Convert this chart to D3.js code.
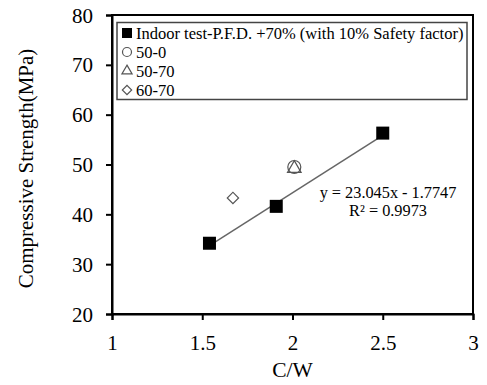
<!DOCTYPE html>
<html>
<head>
<meta charset="utf-8">
<script src="https://cdn.jsdelivr.net/npm/d3@7"></script>
<style>
  body { margin: 0; background: #fff; }
  svg text { font-family: "Liberation Serif", "Times New Roman", serif; fill: #000; }
</style>
</head>
<body>
<div class="wrap"></div>
<script>
// data
const indoorCW = [1.54, 1.91, 2.5];
const indoorFc = [34.2, 41.6, 56.3];
const series50_0 = [[2.01, 49.3]];
const series50_70 = [[2.01, 49.4]];
const series60_70 = [[1.67, 43.3]];
const legendLabels = ["Indoor test-P.F.D. +70% (with 10% Safety factor)", "50-0", "50-70", "60-70"];
const xTicks = [1, 1.5, 2, 2.5, 3];
const yTicks = [20, 30, 40, 50, 60, 70, 80];
const slope = 23.045, intercept = -1.7747;

const W = 487, H = 385;
const m = {left: 112, top: 15, right: 14, bottom: 71};
const serif = '"Liberation Serif", "Times New Roman", serif';

const svg = d3.select(".wrap").append("svg")
  .attr("width", W).attr("height", H);

const x = d3.scaleLinear().domain([1, 3]).range([m.left, W - m.right]);
const y = d3.scaleLinear().domain([20, 80]).range([H - m.bottom, m.top]);

// frame
svg.append("rect")
  .attr("x", x(1)).attr("y", y(80))
  .attr("width", x(3) - x(1)).attr("height", y(20) - y(80))
  .attr("fill", "none").attr("stroke", "#000").attr("stroke-width", 2);

const xAxis = d3.axisBottom(x).tickValues(xTicks).tickSize(6).tickPadding(15)
  .tickFormat(d3.format(""));
const yAxis = d3.axisLeft(y).tickValues(yTicks).tickSize(6).tickPadding(13);

const gx = svg.append("g").attr("transform", `translate(0,${y(20)})`).call(xAxis);
const gy = svg.append("g").attr("transform", `translate(${x(1)},0)`).call(yAxis);
[gx, gy].forEach(g => {
  g.attr("font-family", serif).attr("font-size", 21);
  g.select(".domain").attr("stroke-width", 2);
  g.selectAll(".tick line").attr("stroke-width", 2);
  g.selectAll(".tick text").style("font-family", serif).style("font-size", "21px");
});
gy.selectAll(".tick text").attr("dy", "0.34em");

// axis titles
svg.append("text")
  .attr("x", x(2)).attr("y", 377)
  .attr("text-anchor", "middle").style("font-size", "21.5px")
  .text("C/W");
svg.append("text")
  .attr("transform", "translate(33,168.5) rotate(-90)")
  .attr("text-anchor", "middle").style("font-size", "21px")
  .text("Compressive Strength(MPa)");

// trendline
svg.append("line")
  .attr("x1", x(indoorCW[0])).attr("y1", y(slope * indoorCW[0] + intercept))
  .attr("x2", x(indoorCW[2])).attr("y2", y(slope * indoorCW[2] + intercept))
  .attr("stroke", "#666").attr("stroke-width", 1.5);

// markers
indoorCW.forEach((c, i) => {
  svg.append("rect")
    .attr("x", x(c) - 6.5).attr("y", y(indoorFc[i]) - 6.5)
    .attr("width", 13).attr("height", 13).attr("fill", "#000");
});
series50_0.forEach(d => {
  svg.append("circle").attr("cx", x(d[0])).attr("cy", y(d[1]) - 1).attr("r", 6.5)
    .attr("fill", "none").attr("stroke", "#555").attr("stroke-width", 1.2);
});
const tri = d3.symbol().type(d3.symbolTriangle).size(80);
series50_70.forEach(d => {
  svg.append("path").attr("d", tri())
    .attr("transform", `translate(${x(d[0])},${y(d[1]) + 1})`)
    .attr("fill", "none").attr("stroke", "#555").attr("stroke-width", 1.2);
});
series60_70.forEach(d => {
  svg.append("rect")
    .attr("x", -4).attr("y", -4).attr("width", 8).attr("height", 8)
    .attr("transform", `translate(${x(d[0])},${y(d[1])}) rotate(45)`)
    .attr("fill", "none").attr("stroke", "#555").attr("stroke-width", 1.2);
});

// equation
svg.append("text").attr("x", 388).attr("y", 198).attr("text-anchor", "middle")
  .style("font-size", "16.3px").text(`y = ${slope}x - ${Math.abs(intercept)}`);
svg.append("text").attr("x", 388).attr("y", 216).attr("text-anchor", "middle")
  .style("font-size", "16.3px").text("R² = 0.9973");

// legend
const lg = svg.append("g");
lg.append("rect").attr("x", 117).attr("y", 22.5).attr("width", 350).attr("height", 77)
  .attr("fill", "#fff").attr("stroke", "#444").attr("stroke-width", 1.5);
const rowY = [33, 52, 71, 90];
legendLabels.forEach((t, i) => {
  const cy = rowY[i], cx = 127;
  if (i === 0) {
    lg.append("rect").attr("x", cx - 5).attr("y", cy - 5).attr("width", 10).attr("height", 10).attr("fill", "#000");
  } else if (i === 1) {
    lg.append("circle").attr("cx", cx).attr("cy", cy).attr("r", 4.5)
      .attr("fill", "none").attr("stroke", "#555").attr("stroke-width", 1.2);
  } else if (i === 2) {
    lg.append("path").attr("d", d3.symbol().type(d3.symbolTriangle).size(45)())
      .attr("transform", `translate(${cx},${cy})`)
      .attr("fill", "none").attr("stroke", "#555").attr("stroke-width", 1.2);
  } else {
    lg.append("rect").attr("x", -3.3).attr("y", -3.3).attr("width", 6.6).attr("height", 6.6)
      .attr("transform", `translate(${cx},${cy}) rotate(45)`)
      .attr("fill", "none").attr("stroke", "#555").attr("stroke-width", 1.2);
  }
  lg.append("text").attr("x", 136).attr("y", cy + 6)
    .style("font-size", "16.5px").text(t);
});
</script>
</body>
</html>
